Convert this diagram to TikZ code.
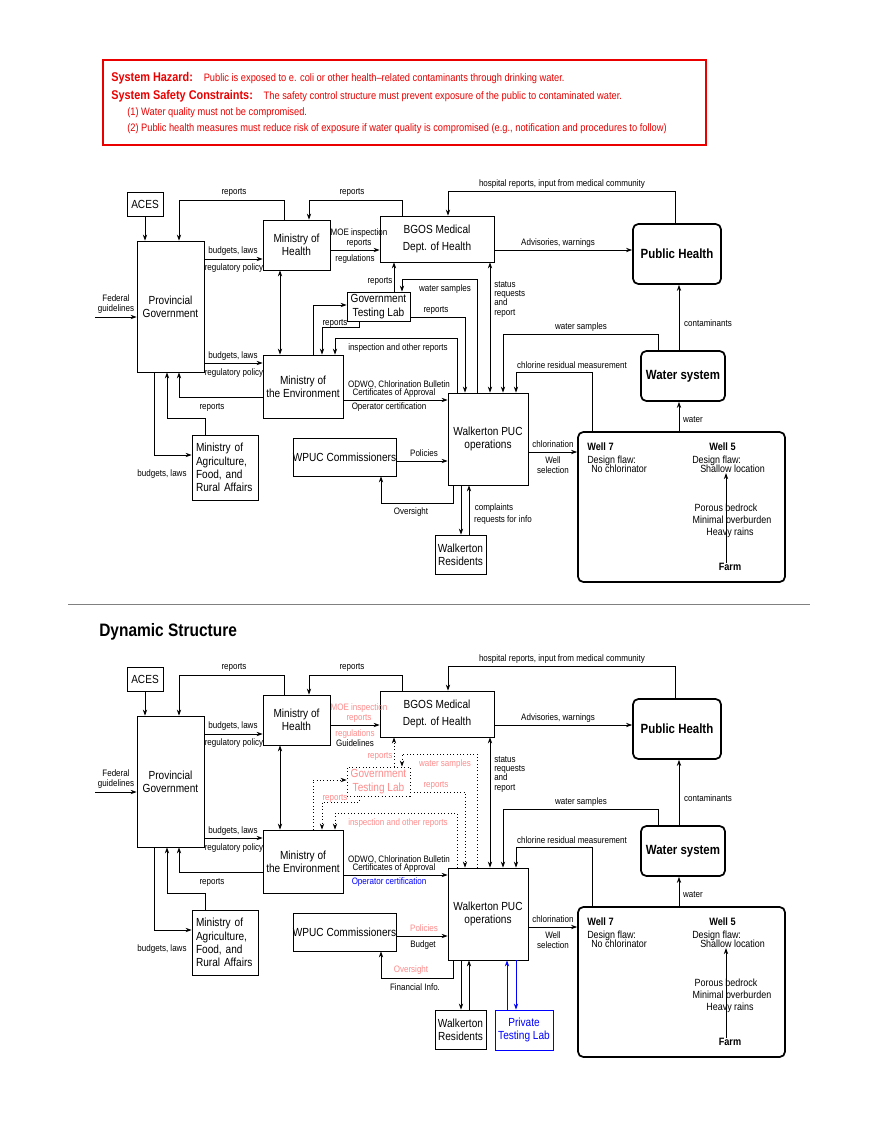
\documentclass[tikz,border=0pt]{standalone}
\usepackage{fontspec}
\setmainfont{Liberation Sans}[FakeStretch=0.86]
\usetikzlibrary{arrows.meta}
\definecolor{pinkc}{RGB}{255,140,140}
\definecolor{bluec}{RGB}{0,0,255}
\definecolor{redc}{RGB}{235,0,0}
\newif\ifdyn
\def\pk{black}\def\dt{solid}\def\bl{black}
\tikzset{
  box/.style={draw, line width=0.6pt, inner sep=0, align=center, font=\fontsize{8.8}{10}\selectfont},
  rbox/.style={draw, line width=1.3pt, rounded corners=4pt, inner sep=0, align=center, font=\bfseries\fontsize{10}{11}\selectfont},
  lab/.style={inner sep=0, font=\fontsize{7}{7}\selectfont, align=center},
  wl/.style={inner sep=0, anchor=west, font=\fontsize{7.8}{8}\selectfont, align=left},
  arr/.style={line width=0.5pt, -{Stealth[length=4.5pt,width=3.2pt]}},
  darr/.style={line width=0.5pt, {Stealth[length=4.5pt,width=3.2pt]}-{Stealth[length=4.5pt,width=3.2pt]}},
}
\newcommand\bx[7][]{\node[box,#1,minimum width={(#5-#3)*0.75pt},minimum height={(#6-#4)*0.75pt}] (#2) at ({(#3+#5)/2},{(#4+#6)/2}) {#7};}
\newcommand\rbx[7][]{\node[rbox,#1,minimum width={(#5-#3)*0.75pt},minimum height={(#6-#4)*0.75pt}] (#2) at ({(#3+#5)/2},{(#4+#6)/2}) {#7};}
\newcommand\diagram[1]{%
\bx{#1aces}{127}{192}{163}{216}{ACES}
\bx{#1pg}{137}{241}{204}{372}{Provincial\\Government}
\bx{#1moh}{263}{220}{330}{270}{Ministry of\\Health}
\bx{#1bgos}{380}{216}{494}{262}{BGOS Medical\\[3pt]Dept. of Health}
\bx[\dt,text=\pk]{#1gtl}{347}{292}{410}{321}{Government\\Testing Lab}
\bx{#1moe}{263}{355}{343}{418}{Ministry of\\the Environment}
\bx{#1puc}{448}{393}{528}{485}{Walkerton PUC\\operations}
\bx{#1wpc}{293}{438}{396}{476}{WPUC Commissioners}
\bx[align=left,text width=58*0.75pt]{#1mag}{192}{435}{258}{500}{Ministry of\\Agriculture,\\Food, and\\Rural Affairs}
\bx{#1res}{435}{535}{486}{574}{Walkerton\\Residents}
\rbx{#1ph}{633}{224}{721}{284}{Public Health}
\rbx{#1ws}{641}{351}{725}{401}{Water system}
\rbx{#1well}{578}{432}{785}{582}{}
\coordinate (#1fed) at (95,317);
\draw[arr] (#1aces.south) -- (#1aces.south |- #1pg.north);
\draw[arr] (#1fed) -- (#1pg.west |- 0,317);
\node[lab] at (116,304) {Federal\\guidelines};
\draw[arr] (284,0 |- #1moh.north) -- (284,200) -- (179,200) -- (179,0 |- #1pg.north);
\node[lab] at (234,192) {reports};
\draw[arr] (#1pg.east |- 0,259) -- (#1moh.west |- 0,259);
\node[lab] at (233,251) {budgets, laws};
\node[lab] at (234,268) {regulatory policy};
\draw[arr] (402,0 |- #1bgos.north) -- (402,200) -- (309,200) -- (309,0 |- #1moh.north);
\node[lab] at (352,192) {reports};
\draw[arr] (#1moh.east |- 0,250) -- (#1bgos.west |- 0,250);
\node[lab,text=\pk] at (359,238) {MOE inspection\\reports};
\node[lab,text=\pk] at (355,259) {regulations};
\ifdyn\node[lab] at (355,268) {Guidelines};\fi
\draw[darr] (280,0 |- #1moh.south) -- (280,0 |- #1moe.north);
\draw[arr] (#1pg.east |- 0,363) -- (#1moe.west |- 0,363);
\node[lab] at (233,356) {budgets, laws};
\node[lab] at (234,373) {regulatory policy};
\draw[arr] (#1moe.west |- 0,397) -- (179,397) -- (179,0 |- #1pg.south);
\node[lab] at (212,407) {reports};
\draw[arr] (154,0 |- #1pg.south) -- (154,455) -- (#1mag.west |- 0,455);
\node[lab] at (162,474) {budgets, laws};
\draw[arr] (205,0 |- #1mag.north) -- (205,418) -- (167,418) -- (167,0 |- #1pg.south);
\draw[arr,\dt] (394,0 |- #1gtl.north) -- (394,0 |- #1bgos.south);
\node[lab,text=\pk] at (380,281) {reports};
\draw[arr,\dt] (477,0 |- #1puc.north) -- (477,279) -- (402,279) -- (402,0 |- #1gtl.north);
\node[lab,text=\pk] at (445,289) {water samples};
\draw[arr,\dt] (#1gtl.east |- 0,317) -- (465,317) -- (465,0 |- #1puc.north);
\node[lab,text=\pk] at (436,310) {reports};
\draw[arr,\dt] (313,0 |- #1moe.north) -- (313,305) -- (#1gtl.west |- 0,305);
\draw[arr,\dt] (359,0 |- #1gtl.south) -- (359,327) -- (322,327) -- (322,0 |- #1moe.north);
\node[lab,text=\pk] at (335,323) {reports};
\draw[arr,\dt] (457,0 |- #1puc.north) -- (457,338) -- (335,338) -- (335,0 |- #1moe.north);
\node[lab,text=\pk] at (398,348) {inspection and other reports};
\draw[arr] (#1moe.east |- 0,400) -- (#1puc.west |- 0,400);
\node[lab] at (399,385) {ODWO, Chlorination Bulletin};
\node[lab] at (394,393) {Certificates of Approval};
\node[lab,text=\bl] at (389,407) {Operator certification};
\draw[darr] (490,0 |- #1bgos.south) -- (490,0 |- #1puc.north);
\node[lab,anchor=north west,align=left] at (494,281) {status\\requests\\and\\report};
\draw[arr] (675,0 |- #1ph.north) -- (675,191) -- (448,191) -- (448,0 |- #1bgos.north);
\node[lab] at (562,184) {hospital reports, input from medical community};
\draw[arr] (#1bgos.east |- 0,250) -- (#1ph.west |- 0,250);
\node[lab] at (558,243) {Advisories, warnings};
\draw[arr] (658,0 |- #1ws.north) -- (658,334) -- (503,334) -- (503,0 |- #1puc.north);
\node[lab] at (581,327) {water samples};
\draw[arr] (592,0 |- #1well.north) -- (592,372) -- (516,372) -- (516,0 |- #1puc.north);
\node[lab] at (572,365) {chlorine residual measurement};
\draw[arr] (679,0 |- #1ws.north) -- (679,0 |- #1ph.south);
\node[lab] at (708,323) {contaminants};
\draw[arr] (679,0 |- #1well.north) -- (679,0 |- #1ws.south);
\node[lab] at (693,420) {water};
\draw[arr] (#1puc.east |- 0,452) -- (#1well.west |- 0,452);
\node[lab] at (553,444) {chlorination};
\node[lab] at (553,465) {Well\\selection};
\draw[arr] (#1wpc.east |- 0,461) -- (#1puc.west |- 0,461);
\node[lab,text=\pk] at (424,453) {Policies};
\ifdyn\node[lab] at (423,470) {Budget};\fi
\draw[arr] (453,0 |- #1puc.south) -- (453,503) -- (381,503) -- (381,0 |- #1wpc.south);
\ifdyn
\node[lab,text=\pk] at (411,495) {Oversight};
\node[lab] at (415,512) {Financial Info.};
\else
\node[lab] at (411,512) {Oversight};
\fi
\draw[arr] (461,0 |- #1puc.south) -- (461,0 |- #1res.north);
\draw[arr] (469,0 |- #1res.north) -- (469,0 |- #1puc.south);
\ifdyn
\bx[draw=bluec,text=bluec]{#1ptl}{495}{535}{553}{575}{Private\\Testing Lab}
\draw[arr,bluec] (507,0 |- #1ptl.north) -- (507,0 |- #1puc.south);
\draw[arr,bluec] (516,0 |- #1puc.south) -- (516,0 |- #1ptl.north);
\else
\node[lab] at (494,508) {complaints};
\node[lab] at (503,520) {requests for info};
\fi
\node[wl,font=\bfseries\fontsize{8}{8}\selectfont] at (587,447) {Well 7};
\node[wl,font=\bfseries\fontsize{8}{8}\selectfont] at (709,447) {Well 5};
\node[wl] at (587,461) {Design flaw:};
\node[wl] at (591,469) {No chlorinator};
\node[wl] at (692,461) {Design flaw:};
\node[wl] (#1shal) at (700,469) {Shallow location};
\node[lab,font=\fontsize{7.8}{8}\selectfont] at (726,508) {Porous bedrock};
\node[lab,font=\fontsize{7.8}{8}\selectfont] at (732,520) {Minimal overburden};
\node[lab,font=\fontsize{7.8}{8}\selectfont] at (730,533) {Heavy rains};
\node[lab,font=\bfseries\fontsize{8}{8}\selectfont] (#1farm) at (730,567) {Farm};
\draw[arr] (726,0 |- #1farm.north) -- (726,0 |- #1shal.south);
}
\begin{document}
\begin{tikzpicture}[x=0.75pt,y=-0.75pt]
\path[use as bounding box,fill=white] (0,0) rectangle (880,1139);
\node[draw=redc,line width=1pt,minimum width={603*0.75pt},minimum height={85*0.75pt},inner sep=0] (hdr) at (404.5,102.5) {};
\begin{scope}[every node/.style={anchor=west,inner sep=0,text=redc,font=\fontsize{8.1}{9}\selectfont}]
\node (h1) at (111,78) {{\bfseries\fontsize{9.5}{10}\selectfont System Hazard:}\quad Public is exposed to e. coli or other health--related contaminants through drinking water.};
\node (h2) at (111,96) {{\bfseries\fontsize{9.5}{10}\selectfont System Safety Constraints:}\quad The safety control structure must prevent exposure of the public to contaminated water.};
\node (h3) at (127,113) {(1) Water quality must not be compromised.};
\node (h4) at (127,129) {(2) Public health measures must reduce risk of exposure if water quality is compromised (e.g., notification and procedures to follow)};
\end{scope}
\diagram{a}
\draw[line width=0.4pt,gray] (68,604) -- (810,604);
\node[anchor=west,inner sep=0,font=\bfseries\fontsize{13.5}{14}\selectfont] (title) at (99,632) {Dynamic Structure};
\dyntrue\def\pk{pinkc}\def\dt{dotted}\def\bl{bluec}
\begin{scope}[shift={(0,475)}]
\diagram{b}
\end{scope}
\end{tikzpicture}
\end{document}
